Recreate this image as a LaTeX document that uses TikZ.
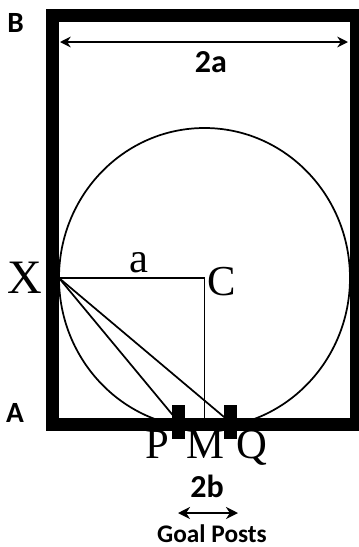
\documentclass[tikz,border=0pt]{standalone}
\usepackage{fontspec}
\setmainfont{Liberation Serif}
\newfontfamily\tagfont{Carlito}
\usetikzlibrary{arrows.meta,positioning}
\definecolor{Ink}{HTML}{000000}
\tikzset{frame/.style={draw=Ink,line width=9.75pt},geo/.style={draw=Ink,line width=1.3pt},post/.style={fill=Ink,minimum width=9.75pt,minimum height=26pt,inner sep=0pt},lab/.style={font=\fontsize{32}{32}\selectfont,text=Ink,inner sep=0pt,anchor=base},tag/.style={font=\tagfont\bfseries\fontsize{22}{22}\selectfont,text=Ink,inner sep=0pt,anchor=base},dim/.style={{Stealth[length=8pt,width=8pt]}-{Stealth[length=8pt,width=8pt]},line width=2pt,draw=Ink}}

\begin{document}
\begin{tikzpicture}[x=0.75pt,y=-0.75pt]
\useasboundingbox (0,0) rectangle (358,547);
\coordinate (X) at (59,278);
\coordinate (C) at (204.5,278);
\coordinate (M) at (204.5,424);
\coordinate (P) at (178.5,422);
\coordinate (Q) at (230,422);
\coordinate (wl) at (60,42);\coordinate (wr) at (348,42);
\coordinate (gl) at (178,513);\coordinate (gr) at (238,513);
\draw[frame] (52.5,15) rectangle (356,424);
\draw[geo] (C) ellipse [x radius=145.5,y radius=150];
\draw[geo] (X)--(C)--(M);
\draw[geo] (X)--(P);\draw[geo] (X)--(Q);
\node[post] (pp) at (P) {};\node[post] (pq) at (Q) {};
\draw[dim] (wl)--(wr);
\draw[dim,{Stealth[length=9pt,width=9pt]}-{Stealth[length=9pt,width=9pt]}] (gl)--(gr);
\node[tag] (b) at (15.5,32) {B};
\node[tag] (a) at (15,422) {A};
\node[tag,font=\tagfont\bfseries\fontsize{24}{24}\selectfont] (w) at (211,72) {2a};
\node[tag,font=\tagfont\bfseries\fontsize{24}{24}\selectfont] (g) at (207,497) {2b};
\node[tag,font=\tagfont\bfseries\fontsize{19}{19}\selectfont] (gp) at (212,542) {Goal Posts};
\node[lab,font=\fontsize{36}{36}\selectfont] (xl) at (25,293) {X};
\node[lab] (rl) at (139,272) {a};
\node[lab] (cl) at (222,295) {C};
\node[lab] (pl) at (157,458) {P};
\node[lab] (ml) at (205,458) {M};
\node[lab] (ql) at (252,458) {Q};
\end{tikzpicture}
\end{document}
